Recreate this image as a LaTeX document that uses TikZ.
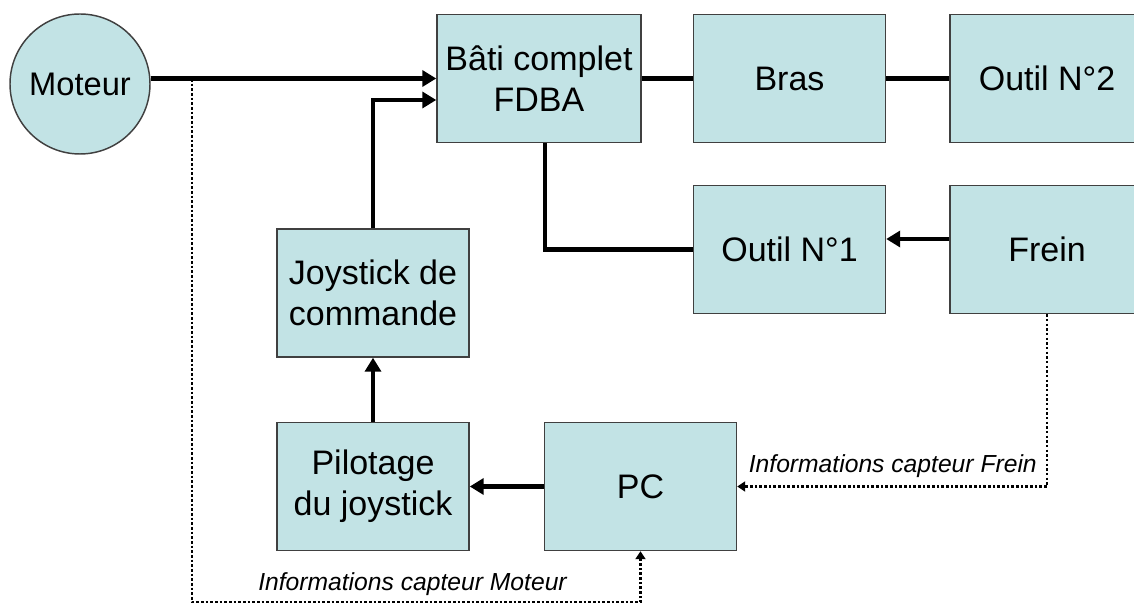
\documentclass[tikz,border=0pt]{standalone}
\usepackage{fontspec}
\setmainfont{Liberation Sans}
\usetikzlibrary{arrows.meta,calc}
\definecolor{boxfill}{RGB}{194,227,229}
\definecolor{boxline}{RGB}{64,64,64}
\begin{document}
\begin{tikzpicture}[
  x=0.75pt, y=-0.75pt,
  block/.style={draw=boxline, line width=1.1pt, fill=boxfill, inner sep=0pt,
    align=center, font=\fontsize{25.5}{30.5}\selectfont,
    minimum width=144pt, minimum height=96pt},
  motor/.style={circle, draw=boxline, line width=1.1pt, fill=boxfill, inner sep=0pt,
    minimum size=105pt, font=\fontsize{24.5}{29}\selectfont},
  flow/.style={draw=black, line width=3.3pt},
  arr/.style={flow, -{Triangle[length=10.5pt,width=12pt]}},
  info/.style={draw=black, line width=1.9pt, dash pattern=on 1.9pt off 1.6pt,
    -{Triangle[length=6pt,width=7.5pt]}},
  infolabel/.style={inner sep=0pt, font=\fontsize{18.5}{22}\selectfont\itshape}
]
\useasboundingbox (0,0) rectangle (1134,605);
\clip (0,0) rectangle (1134,605);

% blocks
\node[motor] (moteur) at (80,84) {Moteur};
\node[block, minimum width=153pt] (bati) at (539,78.5) {Bâti complet\\FDBA};
\node[block] (bras) at (789.5,78.5) {Bras};
\node[block, minimum width=145.5pt] (outil2) at (1047,78.5) {Outil N°2};
\node[block] (outil1) at (789.5,249.5) {Outil N°1};
\node[block, minimum width=145.5pt] (frein) at (1047,249.5) {Frein};
\node[block] (joy) at (373,293) {Joystick de\\commande};
\node[block] (pilot) at (373,486.5) {Pilotage\\du joystick};
\node[block] (pc) at (640.5,486.5) {PC};

% power / mechanical chain
\coordinate (tap) at (192,79);
\coordinate (low) at (192,602);
\coordinate (bin2) at ($(bati.west)+(0,21.5)$);
\draw[arr] (moteur.east |- bati.west) -- (bati.west);
\draw[arr] (joy.north) |- (bin2);
\draw[flow] (bati.east) -- (bras.west);
\draw[flow] (bras.east) -- (outil2.west);
\draw[flow] ($(bati.south)+(6,0)$) |- (outil1.west);
\draw[arr] ($(frein.west)+(0,-10.5)$) -- ($(outil1.east)+(0,-10.5)$);
\draw[arr] (pilot.north) -- (joy.south);
\draw[arr] (pc.west) -- (pilot.east);

% sensor information
\draw[info] (frein.south) |- (pc.east);
\draw[info] (tap) -- (low) -| (pc.south);
\node[infolabel, anchor=base east] (lblfrein) at (1037,472) {Informations capteur Frein};
\node[infolabel, anchor=base west] (lblmoteur) at (258,590) {Informations capteur Moteur};
\end{tikzpicture}
\end{document}
